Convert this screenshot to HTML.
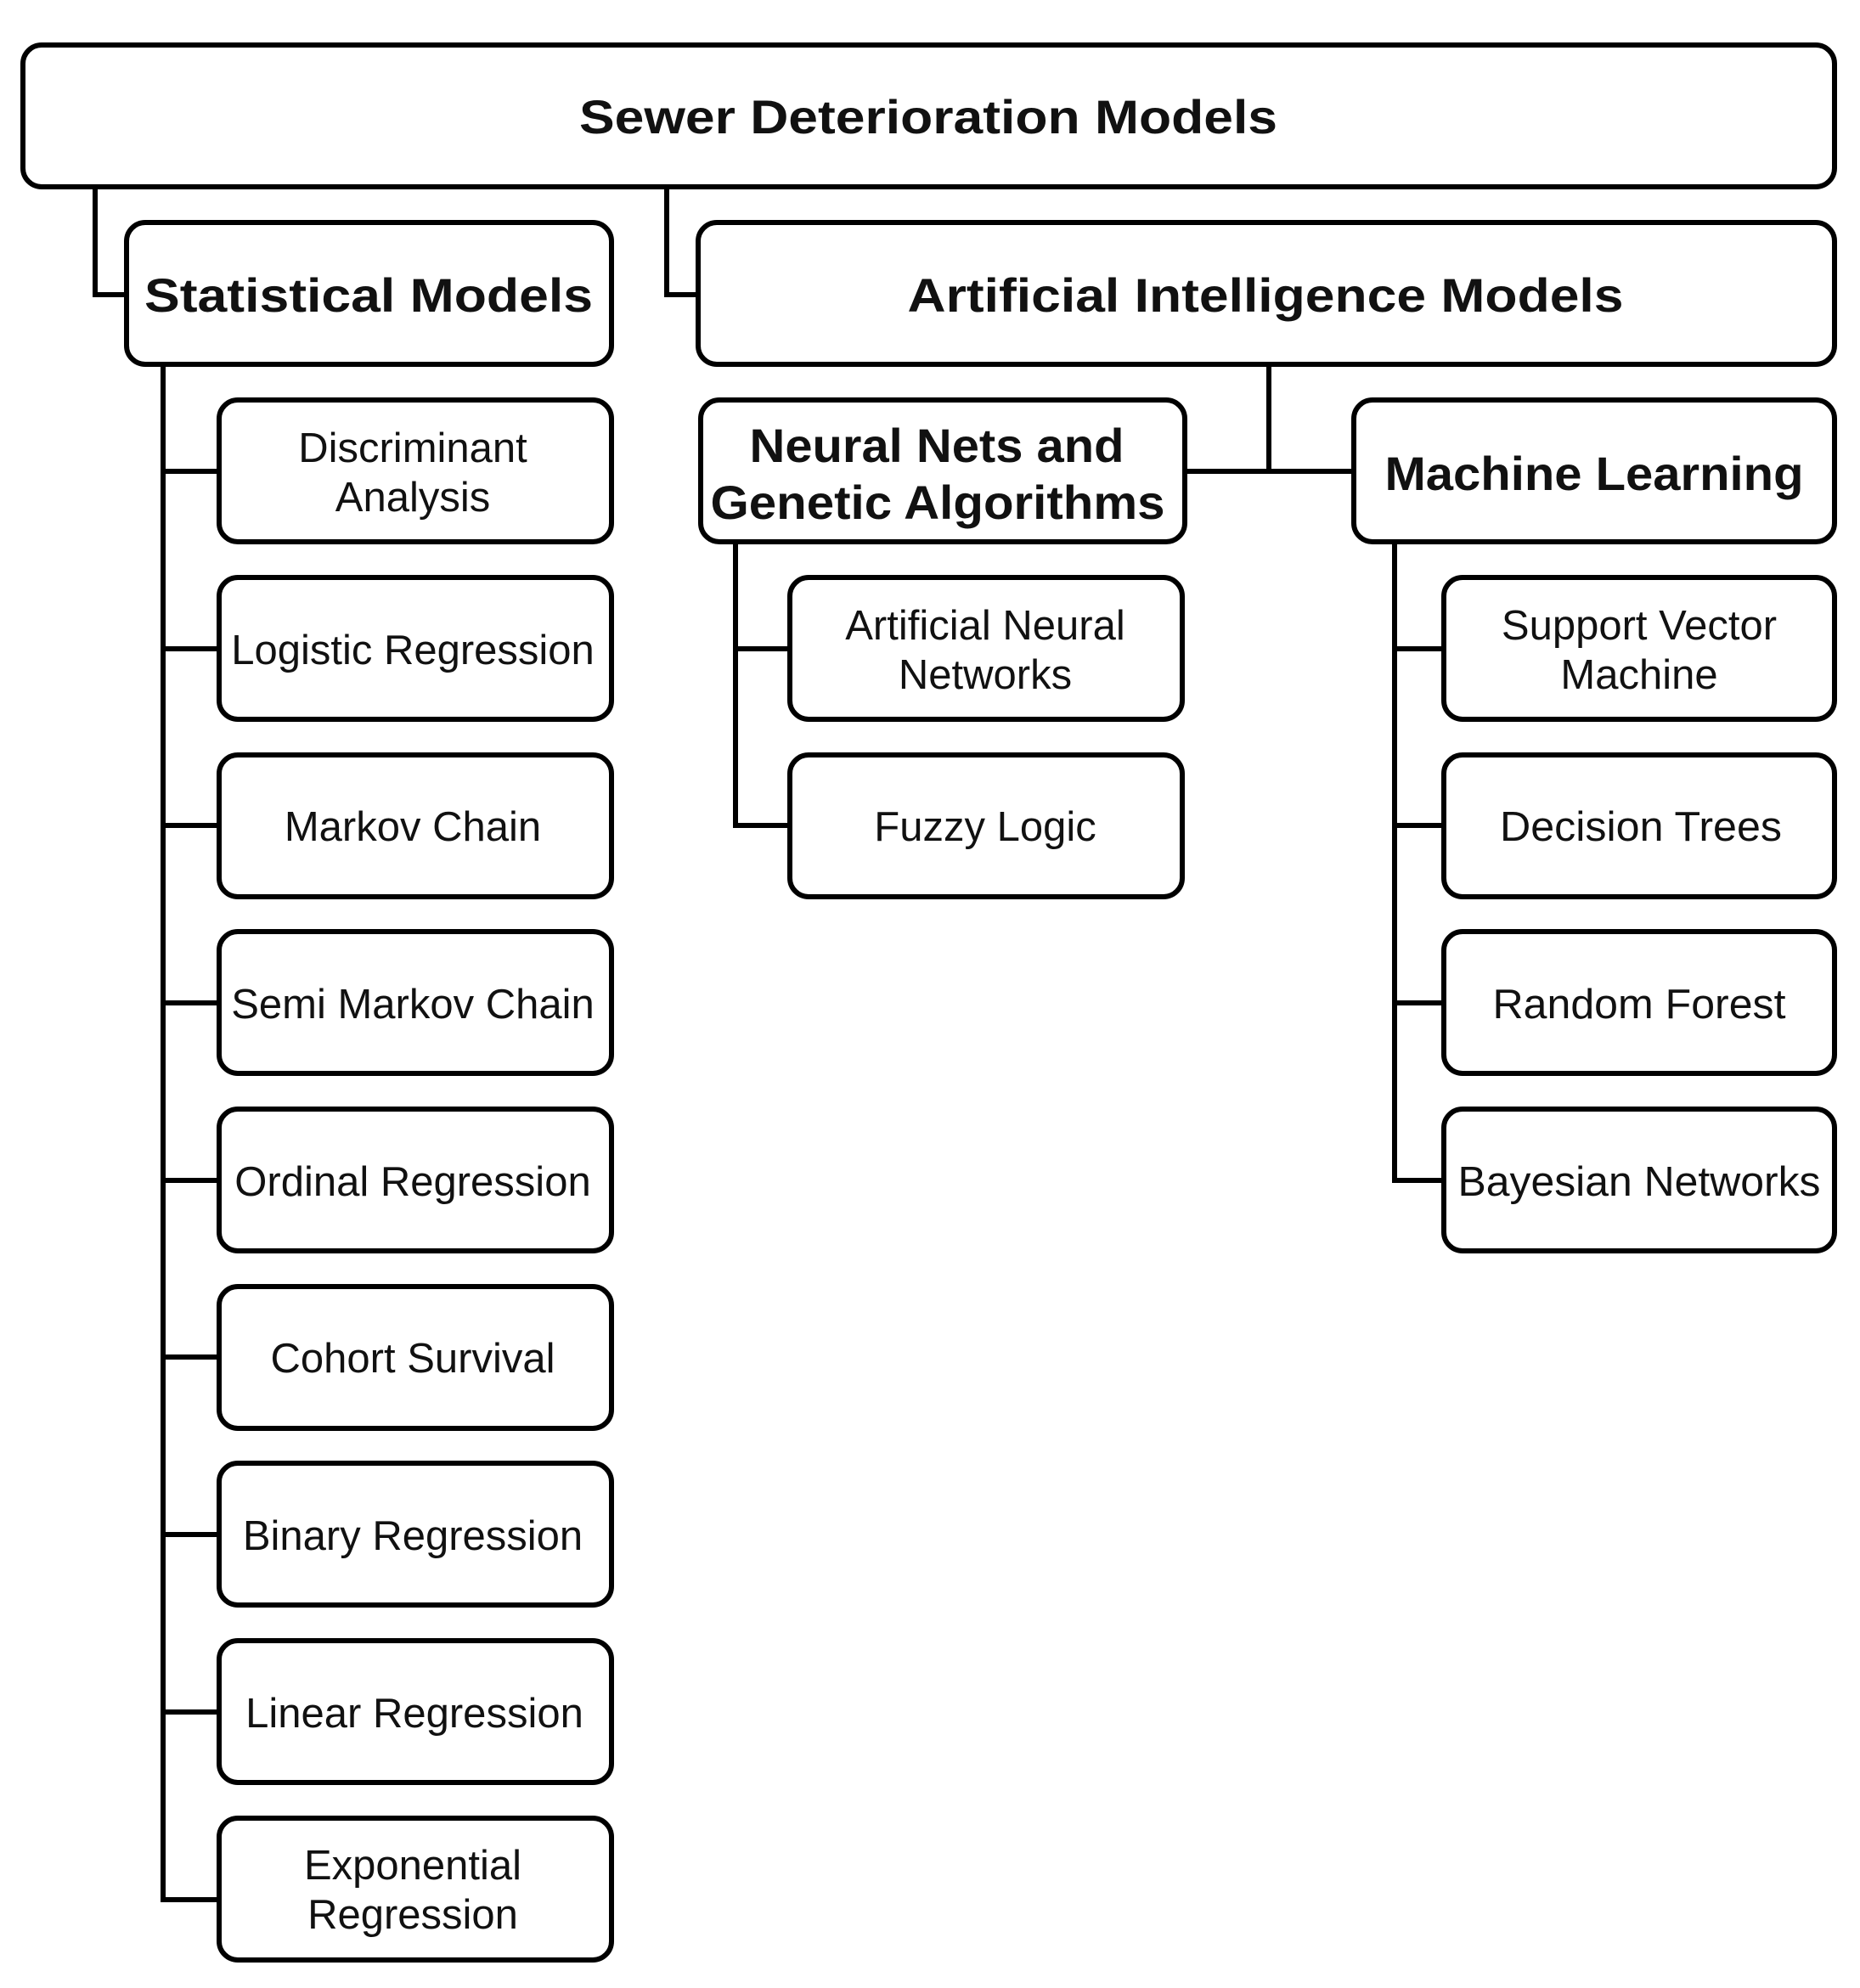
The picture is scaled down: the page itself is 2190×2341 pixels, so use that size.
<!DOCTYPE html>
<html><head><meta charset="utf-8"><style>
html,body{margin:0;padding:0;background:#fff;}
svg{display:block;}
text{font-family:"Liberation Sans",Arial,sans-serif;fill:#111;}
.b{font-weight:bold;font-size:56px;}
.r{font-size:49px;}
</style></head><body>
<svg width="2190" height="2341" viewBox="0 0 2190 2341" xmlns="http://www.w3.org/2000/svg">
<g fill="none" stroke="#000" stroke-width="6">
<!-- connectors -->
<polyline points="112,220 112,347 149,347"/>
<polyline points="785,220 785,347 822,347"/>
<polyline points="192,429 192,2237 258,2237"/>
<line x1="192" y1="555" x2="258" y2="555"/>
<line x1="192" y1="764" x2="258" y2="764"/>
<line x1="192" y1="972" x2="258" y2="972"/>
<line x1="192" y1="1181" x2="258" y2="1181"/>
<line x1="192" y1="1390" x2="258" y2="1390"/>
<line x1="192" y1="1598" x2="258" y2="1598"/>
<line x1="192" y1="1807" x2="258" y2="1807"/>
<line x1="192" y1="2016" x2="258" y2="2016"/>
<line x1="1494" y1="429" x2="1494" y2="555"/>
<line x1="1394" y1="555" x2="1594" y2="555"/>
<polyline points="866,639 866,972 930,972"/>
<line x1="866" y1="764" x2="930" y2="764"/>
<polyline points="1642,639 1642,1390 1700,1390"/>
<line x1="1642" y1="764" x2="1700" y2="764"/>
<line x1="1642" y1="972" x2="1700" y2="972"/>
<line x1="1642" y1="1181" x2="1700" y2="1181"/>
<!-- boxes -->
<rect x="27" y="53" width="2133" height="167" rx="22"/>
<rect x="149" y="262" width="571" height="167" rx="22"/>
<rect x="822" y="262" width="1338" height="167" rx="22"/>
<rect x="825" y="471" width="570" height="167" rx="22"/>
<rect x="1594" y="471" width="566" height="167" rx="22"/>
<rect x="258" y="471" width="462" height="167" rx="22"/>
<rect x="258" y="680" width="462" height="167" rx="22"/>
<rect x="258" y="889" width="462" height="167" rx="22"/>
<rect x="258" y="1097" width="462" height="167" rx="22"/>
<rect x="258" y="1306" width="462" height="167" rx="22"/>
<rect x="258" y="1515" width="462" height="167" rx="22"/>
<rect x="258" y="1723" width="462" height="167" rx="22"/>
<rect x="258" y="1932" width="462" height="167" rx="22"/>
<rect x="258" y="2141" width="462" height="167" rx="22"/>
<rect x="930" y="680" width="462" height="167" rx="22"/>
<rect x="930" y="889" width="462" height="167" rx="22"/>
<rect x="1700" y="680" width="460" height="167" rx="22"/>
<rect x="1700" y="889" width="460" height="167" rx="22"/>
<rect x="1700" y="1097" width="460" height="167" rx="22"/>
<rect x="1700" y="1306" width="460" height="167" rx="22"/>
</g>
<g text-anchor="middle">
<text class="b" x="1093" y="157" textLength="822" lengthAdjust="spacingAndGlyphs">Sewer Deterioration Models</text>
<text class="b" x="434" y="367" textLength="528" lengthAdjust="spacingAndGlyphs">Statistical Models</text>
<text class="b" x="1490" y="367" textLength="843" lengthAdjust="spacingAndGlyphs">Artificial Intelligence Models</text>
<text class="b" x="1103" y="544" textLength="441" lengthAdjust="spacingAndGlyphs">Neural Nets and</text>
<text class="b" x="1104" y="611" textLength="535" lengthAdjust="spacingAndGlyphs">Genetic Algorithms</text>
<text class="b" x="1877" y="577" textLength="493" lengthAdjust="spacingAndGlyphs">Machine Learning</text>

<text class="r" x="486" y="544">Discriminant</text>
<text class="r" x="486" y="602">Analysis</text>
<text class="r" x="486" y="782">Logistic Regression</text>
<text class="r" x="486" y="990">Markov Chain</text>
<text class="r" x="486" y="1199">Semi Markov Chain</text>
<text class="r" x="486" y="1408">Ordinal Regression</text>
<text class="r" x="486" y="1616">Cohort Survival</text>
<text class="r" x="486" y="1825">Binary Regression</text>
<text class="r" x="488" y="2034">Linear Regression</text>
<text class="r" x="486" y="2213">Exponential</text>
<text class="r" x="486" y="2271">Regression</text>

<text class="r" x="1160" y="753">Artificial Neural</text>
<text class="r" x="1160" y="811">Networks</text>
<text class="r" x="1160" y="990">Fuzzy Logic</text>

<text class="r" x="1930" y="753">Support Vector</text>
<text class="r" x="1930" y="811">Machine</text>
<text class="r" x="1932" y="990" textLength="332" lengthAdjust="spacingAndGlyphs">Decision Trees</text>
<text class="r" x="1930" y="1199" textLength="345" lengthAdjust="spacingAndGlyphs">Random Forest</text>
<text class="r" x="1930" y="1408" textLength="427" lengthAdjust="spacingAndGlyphs">Bayesian Networks</text>
</g>
</svg>
</body></html>
